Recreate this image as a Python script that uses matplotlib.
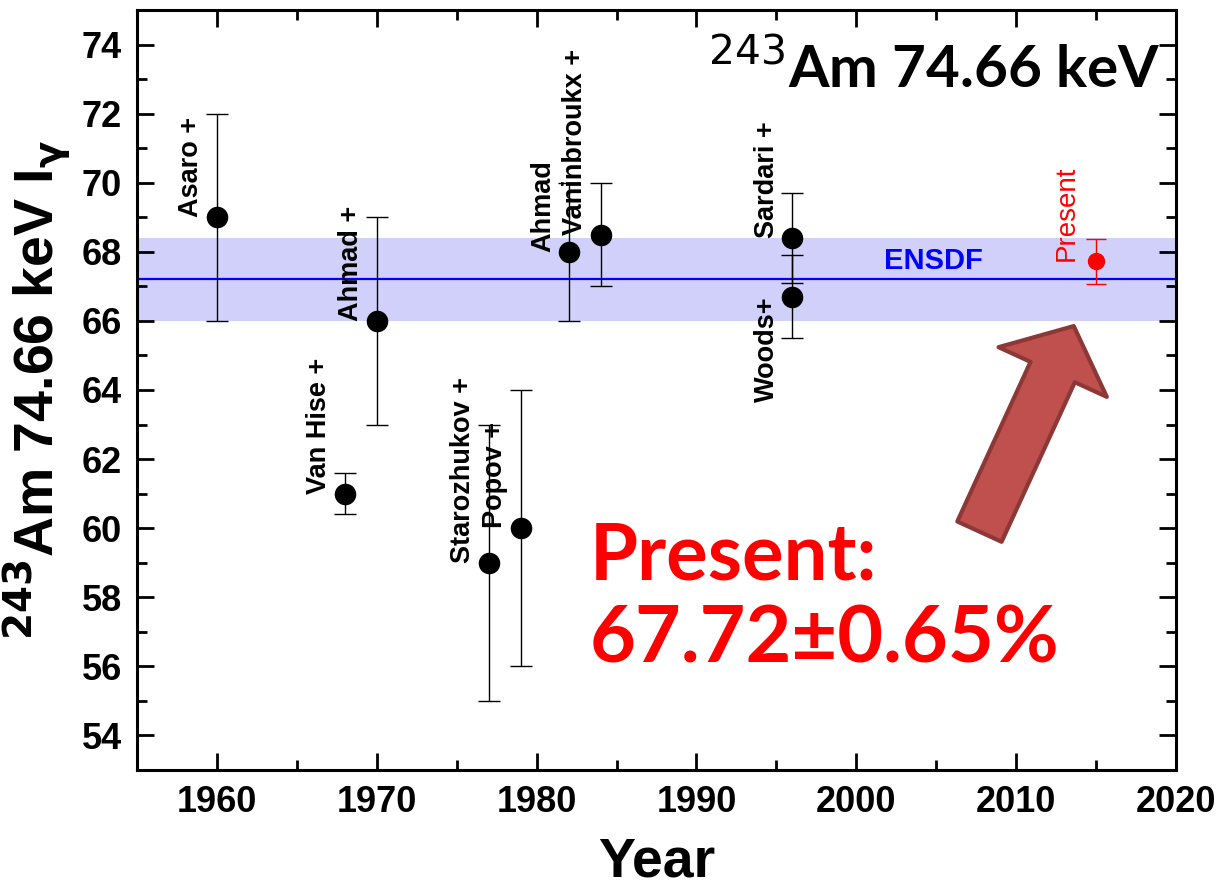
import matplotlib
matplotlib.use("Agg")
import matplotlib.pyplot as plt
from matplotlib.ticker import MultipleLocator

# measurements of the 74.66 keV gamma intensity of 243Am
years = [1960, 1968, 1970, 1977, 1979, 1982, 1984, 1996, 1996]
values = [69.0, 61.0, 66.0, 59.0, 60.0, 68.0, 68.5, 68.4, 66.7]
errors = [3.0, 0.6, 3.0, 4.0, 4.0, 2.0, 1.5, 1.3, 1.2]
names = ["Asaro +", "Van Hise +", "Ahmad +", "Starozhukov +", "Popov +",
         "Ahmad", "Vaninbroukx +", "Sardari +", "Woods+"]
# label below the point (text runs downward from the point) for these
label_below = [False, False, False, False, False, False, False, False, True]

present_year = 2015
present_value = 67.72
present_error = 0.65

ensdf_value = 67.2
ensdf_error = 1.2

plt.rcParams['font.family'] = ['Liberation Sans', 'DejaVu Sans']

fig = plt.figure(figsize=(12.21, 8.91), dpi=100)
ax = fig.add_axes([0.1122, 0.1358, 0.851, 0.8530])

# ENSDF band and line
ax.axhspan(ensdf_value - ensdf_error, ensdf_value + ensdf_error,
           color='#d0d0fa', zorder=0, lw=0)
ax.axhline(ensdf_value, color='#0000ff', lw=1.6, zorder=1)
ax.text(2004.8, ensdf_value + 0.13, "ENSDF", color='#0000ff', fontsize=21,
        fontweight='bold', ha='center', va='bottom')

ax.errorbar(years, values, yerr=errors, fmt='o', color='black', ms=14.5,
            ecolor='black', elinewidth=1, capsize=8, capthick=1, zorder=3)

ax.errorbar([present_year], [present_value], yerr=[present_error], fmt='o',
            color='#ff0000', ms=11.5, ecolor='#ff0000', elinewidth=1,
            capsize=7, capthick=1, zorder=3)

for x, y, name, below in zip(years, values, names, label_below):
    ax.annotate(name, (x, y), xytext=(-9, 0), textcoords='offset points',
                rotation=90, ha='right', va='top' if below else 'bottom',
                fontsize=19.5, fontweight='bold')

ax.annotate("Present", (present_year, present_value), xytext=(-12, 0),
            textcoords='offset points', rotation=90, ha='right', va='bottom',
            fontsize=20, color='#ff0000')

# big block arrow pointing at the present value
ax.annotate("", xy=(2013.6, 65.85), xytext=(2007.7, 59.9),
            arrowprops=dict(arrowstyle="simple,head_width=3.3,head_length=1.4,tail_width=1.35",
                            fc='#c0504d', ec='#8c3836', lw=3,
                            shrinkA=0, shrinkB=0, mutation_scale=26),
            zorder=4)

ax.text(0.985, 0.897, r"$^{243}$Am 74.66 keV", transform=ax.transAxes,
        ha='right', va='baseline', fontsize=42, fontweight='bold',
        family=['Lato', 'DejaVu Sans'])
ax.text(0.436, 0.25, "Present:", transform=ax.transAxes, ha='left',
        va='baseline', fontsize=56, fontweight='bold', color='#ff0000',
        family=['Lato', 'DejaVu Sans'])
ax.text(0.436, 0.142, "67.72\u00b10.65%", transform=ax.transAxes,
        ha='left', va='baseline', fontsize=57, fontweight='bold',
        color='#ff0000', family=['Lato', 'DejaVu Sans'])

ax.set_xlim(1955, 2020)
ax.set_ylim(53, 75)
ax.xaxis.set_minor_locator(MultipleLocator(5))
ax.yaxis.set_minor_locator(MultipleLocator(1))
ax.set_xticks([1960, 1970, 1980, 1990, 2000, 2010, 2020])
ax.set_yticks(range(54, 75, 2))

ax.tick_params(which='both', direction='in', top=True, right=True, width=2)
ax.tick_params(which='major', length=12, labelsize=26, pad=11)
ax.tick_params(which='minor', length=7)
for lab in ax.get_xticklabels() + ax.get_yticklabels():
    lab.set_fontweight('bold')
for sp in ax.spines.values():
    sp.set_linewidth(2.2)

ax.set_xlabel("Year", fontsize=40, fontweight='bold', labelpad=12)
ax.set_ylabel(r"$^{\mathbf{243}}$Am 74.66 keV I$_\mathbf{\gamma}$", fontsize=40,
              fontweight='bold', labelpad=6)

fig.savefig("out.png", dpi=100)
